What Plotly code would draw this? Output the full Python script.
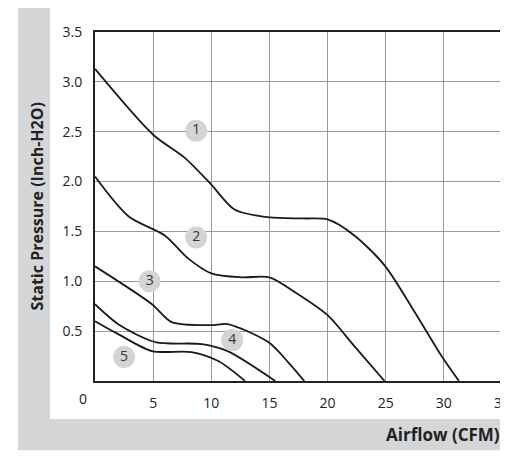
import plotly.graph_objects as go

c1x = [0, 5, 7.7, 10, 12, 15, 18, 20, 22.3, 24.9, 27.5, 29.8, 31.3]
c1y = [3.13, 2.47, 2.24, 1.97, 1.72, 1.64, 1.63, 1.62, 1.46, 1.16, 0.69, 0.25, 0]
c2x = [0, 2.9, 6, 8, 10, 12.6, 15, 17.2, 20, 22.3, 24.9]
c2y = [2.05, 1.65, 1.46, 1.23, 1.08, 1.04, 1.04, 0.89, 0.66, 0.35, 0]
c3x = [0, 4.9, 6.6, 10, 11.4, 14.9, 16.6, 18]
c3y = [1.15, 0.77, 0.59, 0.56, 0.57, 0.39, 0.19, 0]
c4x = [0, 2, 5.2, 9.2, 11.4, 15.5]
c4y = [0.77, 0.57, 0.39, 0.37, 0.30, 0]
c5x = [0, 2, 4.9, 8.3, 10.6, 12.9]
c5y = [0.6, 0.47, 0.30, 0.29, 0.20, 0]
curves = [(c1x, c1y), (c2x, c2y), (c3x, c3y), (c4x, c4y), (c5x, c5y)]
lab_text = ["1", "2", "3", "4", "5"]
lab_x = [8.7, 8.7, 4.7, 11.8, 2.5]
lab_y = [2.51, 1.44, 1.0, 0.41, 0.24]
xticks = [5, 10, 15, 20, 25, 30, 35]
yticks = [0.5, 1.0, 1.5, 2.0, 2.5, 3.0, 3.5]

fig = go.Figure()
for cx, cy in curves:
    fig.add_trace(go.Scatter(x=cx, y=cy, mode="lines",
                             line=dict(color="#1a1a1a", width=1.8, shape="spline", smoothing=0.8),
                             hoverinfo="skip"))
fig.add_trace(go.Scatter(x=lab_x, y=lab_y, mode="markers+text", text=lab_text,
                         marker=dict(size=22, color="#d3d4d6"),
                         textfont=dict(family="Open Sans", size=14, color="#333"),
                         textposition="middle center"))

gray = "#d5d6d8"
fig.add_shape(type="rect", xref="paper", yref="paper", x0=-77/407, x1=1.02,
              y0=-69/348, y1=-38/348, fillcolor=gray, line_width=0, layer="below")
fig.add_shape(type="rect", xref="paper", yref="paper", x0=-77/407, x1=-45/407,
              y0=-38/348, y1=1.07, fillcolor=gray, line_width=0, layer="below")
fig.add_annotation(xref="paper", yref="paper", x=-12/407, y=-17/348, text="0",
                   showarrow=False, font=dict(family="Open Sans", size=14, color="#222"),
                   xanchor="center", yanchor="middle")
fig.add_annotation(xref="paper", yref="paper", x=1.0, y=-53/348, text="<b>Airflow (CFM)</b>",
                   showarrow=False, font=dict(family="Open Sans", size=17, color="#222"),
                   xanchor="right", yanchor="middle")
fig.add_annotation(xref="paper", yref="paper", x=-59/407, y=0.5,
                   text="<b>Static Pressure (Inch-H2O)</b>", textangle=-90,
                   showarrow=False, font=dict(family="Open Sans", size=16, color="#222"),
                   xanchor="center", yanchor="middle")

fig.update_xaxes(range=[0, 35], tickvals=xticks, showgrid=True, gridcolor="#999", gridwidth=1.2,
                 showline=True, linecolor="#222", linewidth=2, mirror=True, zeroline=False,
                 tickfont=dict(family="Open Sans", size=14, color="#222"), ticks="",
                 ticklabelstandoff=8, automargin=False)
fig.update_yaxes(range=[0, 3.5], tickvals=yticks, tickformat=".1f", showgrid=True, gridcolor="#999",
                 gridwidth=1.2, showline=True, linecolor="#222", linewidth=2, mirror=True,
                 zeroline=False, tickfont=dict(family="Open Sans", size=14, color="#222"),
                 ticks="", ticklabelstandoff=8, automargin=False)
fig.update_layout(width=508, height=461, margin=dict(l=87, r=14, t=24, b=88, autoexpand=False),
                  showlegend=False, plot_bgcolor="white", paper_bgcolor="white")
fig.write_html("out.html")
